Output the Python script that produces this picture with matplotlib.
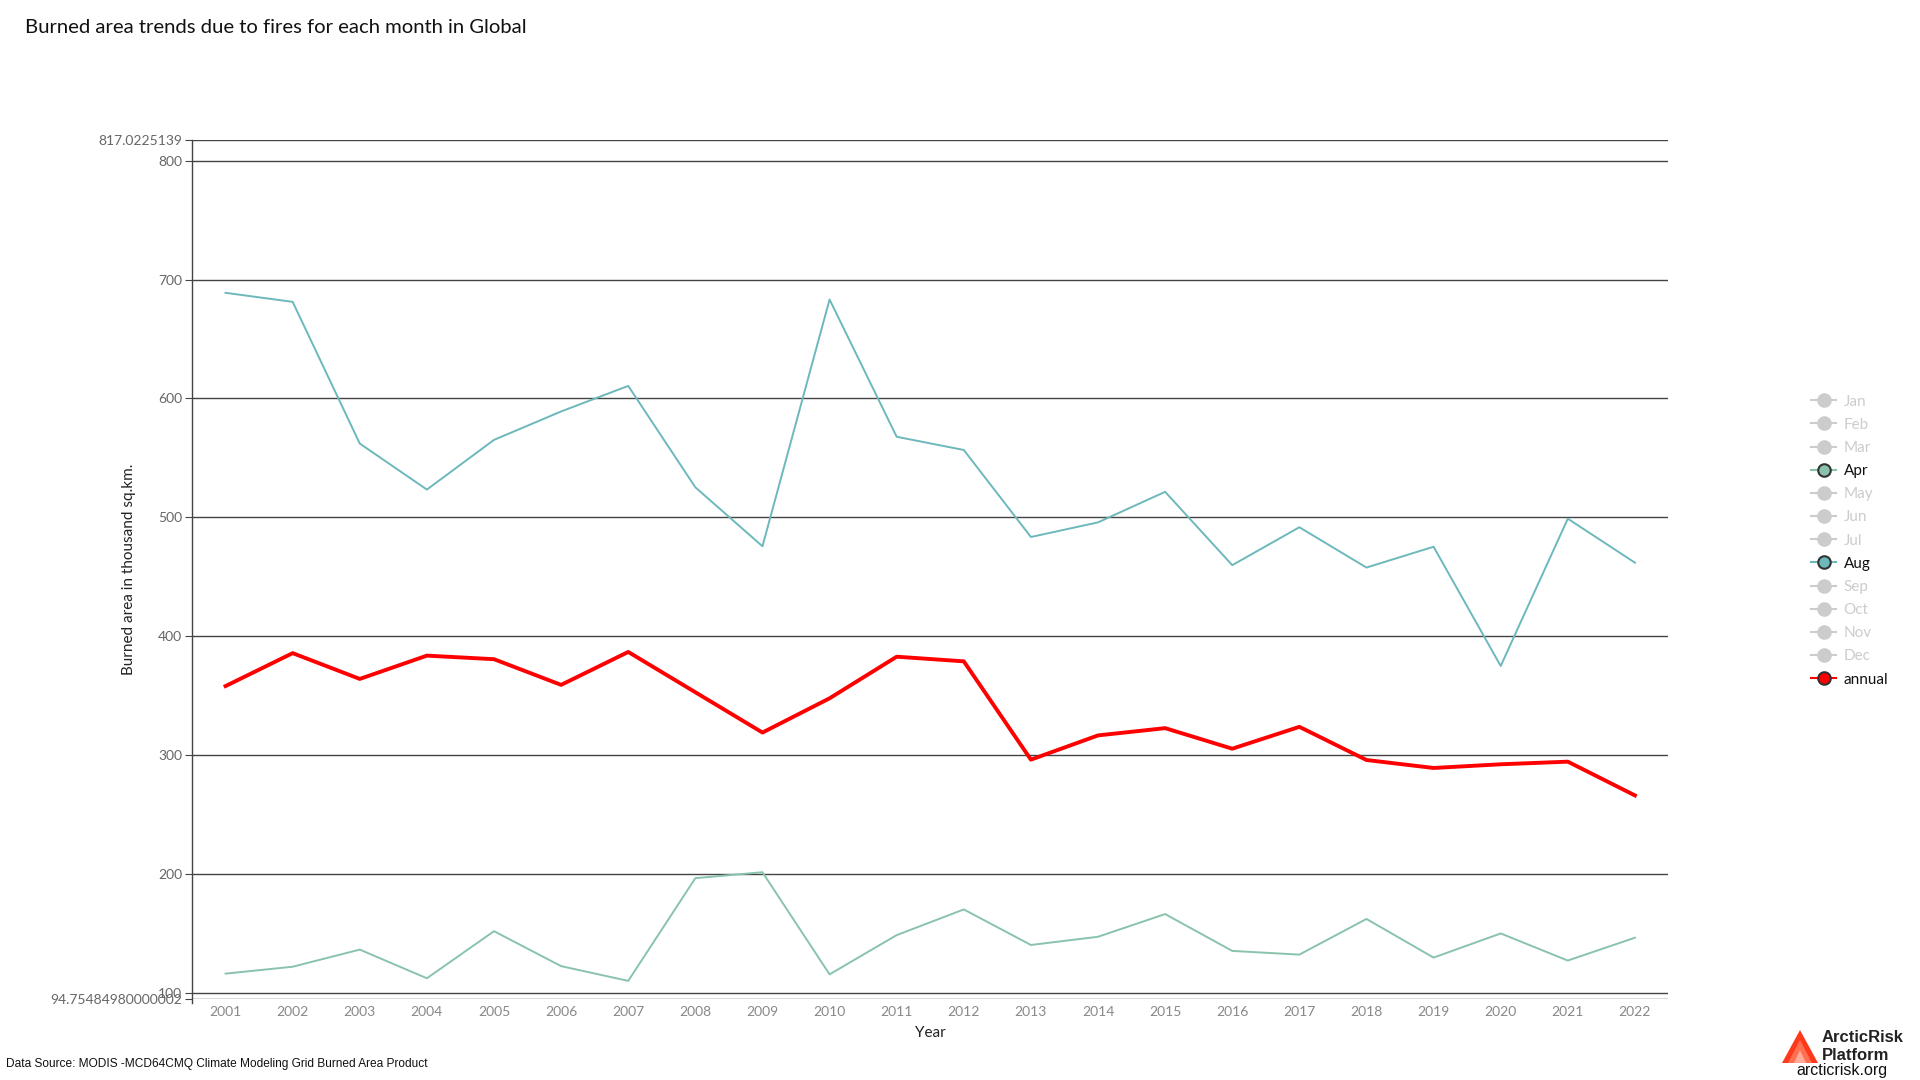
import matplotlib
matplotlib.use("Agg")
import matplotlib.pyplot as plt
from matplotlib.lines import Line2D
from matplotlib.patches import Polygon

years = list(range(2001, 2023))
aug = [688.8, 681.2, 562.0, 523.3, 565.1, 589.0, 610.5, 525.2, 475.6, 683.2,
       567.7, 556.6, 483.4, 495.7, 521.4, 459.7, 491.6, 457.7, 475.2, 374.9,
       498.8, 461.8]
apr = [116.1, 121.9, 136.3, 112.2, 151.8, 122.4, 110.0, 196.4, 201.4, 115.5,
       148.5, 170.1, 140.2, 147.1, 166.2, 135.2, 132.1, 162.1, 129.6, 149.9,
       127.1, 146.3]
annual = [358.0, 385.7, 364.0, 383.6, 380.6, 359.0, 386.7, 352.8, 318.9, 347.7,
          382.7, 378.8, 296.1, 316.5, 322.6, 305.3, 323.7, 295.8, 289.1, 292.2,
          294.4, 266.0]
y_min = 94.75484980000002
y_max = 817.0225139
y_ticks = [100, 200, 300, 400, 500, 600, 700, 800]
legend_labels = ["Jan", "Feb", "Mar", "Apr", "May", "Jun", "Jul", "Aug",
                 "Sep", "Oct", "Nov", "Dec", "annual"]

C_AUG = "#6cb8bb"
C_APR = "#89c3ab"
C_RED = "#ff0000"
C_GREY = "#cccccc"
C_GRID = "#444444"

plt.rcParams['font.family'] = ['Lato', 'DejaVu Sans']

fig = plt.figure(figsize=(19.2, 10.8), dpi=100)
ax = fig.add_axes([0.1, 0.075, 0.769, 0.795])

ax.plot(years, aug, color=C_AUG, lw=1.4, zorder=3)
ax.plot(years, apr, color=C_APR, lw=1.4, zorder=3)
ax.plot(years, annual, color=C_RED, lw=2.8, zorder=4)

ax.set_xlim(2000.5, 2022.5)
ax.set_ylim(y_min, y_max)
ticks = [y_min] + y_ticks + [y_max]
ax.set_yticks(ticks)
ax.set_yticklabels(["94.75484980000002"] + [str(t) for t in y_ticks] + ["817.0225139"])
ax.set_xticks(years)
ax.set_xticklabels([str(y) for y in years])
ax.grid(axis='y', color=C_GRID, lw=1.0, zorder=1)
ax.grid(axis='x', visible=False)
for s in ['top', 'right', 'bottom']:
    ax.spines[s].set_visible(False)
ax.spines['left'].set_color(C_GRID)
ax.spines['left'].set_linewidth(1.0)
ax.spines['left'].set_bounds(y_min - 3.5, y_max)
ax.tick_params(axis='y', length=5, color=C_GRID, labelcolor="#666666", labelsize=10, pad=2)
ax.tick_params(axis='x', length=0, labelcolor="#888888", labelsize=10, pad=5)

ax.set_xlabel("Year", fontsize=11, color="#222222", labelpad=6)
ax.set_ylabel("Burned area in thousand sq.km.", fontsize=11, color="#222222")
ax.yaxis.set_label_coords(-0.038, 0.5)

fig.text(0.013, 0.982, "Burned area trends due to fires for each month in Global",
         fontsize=14.6, color="#111111", va='top', ha='left')

# legend
handles = []
for lab in legend_labels:
    if lab == "Apr":
        h = Line2D([], [], color=C_APR, lw=1.5, marker='o', markersize=9,
                   markerfacecolor=C_APR, markeredgecolor="#333333", markeredgewidth=1.5)
    elif lab == "Aug":
        h = Line2D([], [], color=C_AUG, lw=1.5, marker='o', markersize=9,
                   markerfacecolor=C_AUG, markeredgecolor="#333333", markeredgewidth=1.5)
    elif lab == "annual":
        h = Line2D([], [], color=C_RED, lw=1.5, marker='o', markersize=9,
                   markerfacecolor=C_RED, markeredgecolor="#333333", markeredgewidth=1.5)
    else:
        h = Line2D([], [], color=C_GREY, lw=1.5, marker='o', markersize=9,
                   markerfacecolor=C_GREY, markeredgecolor=C_GREY, markeredgewidth=1.5)
    handles.append(h)
leg = fig.legend(handles, legend_labels, loc='center left', bbox_to_anchor=(0.9395, 0.4995),
                 frameon=False, fontsize=11, handlelength=1.6, handletextpad=0.5,
                 labelspacing=0.6, borderpad=0)
for txt, lab in zip(leg.get_texts(), legend_labels):
    txt.set_color("#111111" if lab in ("Apr", "Aug", "annual") else C_GREY)

fig.text(0.003, 0.009, "Data Source: MODIS -MCD64CMQ Climate Modeling Grid Burned Area Product",
         fontsize=8.6, family=['Liberation Sans', 'DejaVu Sans'], color="#111111",
         ha='left', va='bottom')

# logo
W, H = 1920.0, 1080.0
def tri(x0, x1, ytop, ybase, color):
    pts = [(x0 / W, 1 - ybase / H), ((x0 + x1) / 2 / W, 1 - ytop / H), (x1 / W, 1 - ybase / H)]
    fig.patches.append(Polygon(pts, closed=True, transform=fig.transFigure,
                               facecolor=color, edgecolor='none'))
tri(1782, 1818, 1030, 1063, "#ff3a1c")
tri(1788, 1812, 1040, 1063, "#ff7050")
tri(1794, 1806, 1050, 1063, "#ffab98")
fig.text(1822 / W, 1 - 1038 / H, "ArcticRisk", fontsize=12, fontweight='bold',
         family=['Liberation Sans', 'DejaVu Sans'], color="#222222", ha='left', va='center')
fig.text(1822 / W, 1 - 1055 / H, "Platform", fontsize=12, fontweight='bold',
         family=['Liberation Sans', 'DejaVu Sans'], color="#222222", ha='left', va='center')
fig.text(1842 / W, 1 - 1070 / H, "arcticrisk.org", fontsize=11.5,
         family=['Liberation Sans', 'DejaVu Sans'], color="#111111", ha='center', va='center')

fig.savefig("out.png", dpi=100)
